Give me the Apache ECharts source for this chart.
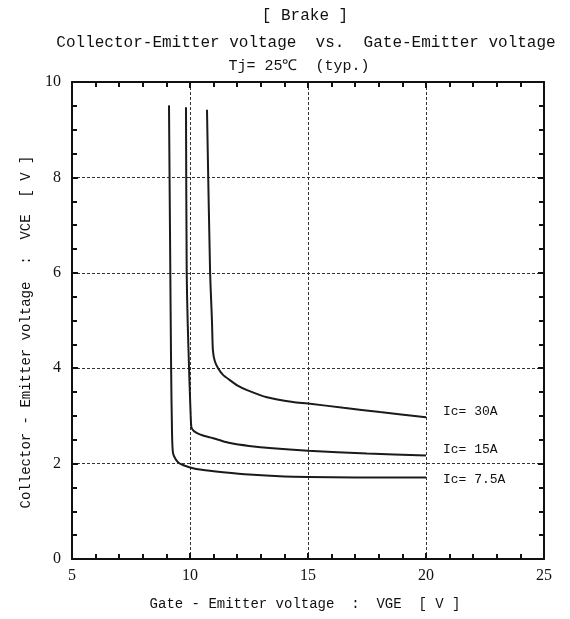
<!DOCTYPE html>
<html>
<head>
<meta charset="utf-8">
<style>
  html, body { margin: 0; padding: 0; background: #ffffff; }
  #chart { width: 570px; height: 619px; }
</style>
<script src="https://cdn.jsdelivr.net/npm/echarts@6/dist/echarts.min.js"></script>
</head>
<body>
<div id="chart"></div>
<script>
// VCE vs VGE curves for three collector currents (Tj = 25 °C, typical)
const vge30 = [10.72, 10.85, 10.93, 10.97, 11.05, 11.19, 11.4, 11.69, 12.0, 12.42, 13.26, 14.36, 15.0, 16.5, 18.05, 20.0];
const vce30 = [9.42, 6.05, 5.0, 4.38, 4.15, 4.0, 3.86, 3.75, 3.64, 3.54, 3.39, 3.29, 3.26, 3.17, 3.08, 2.97];

const vge15 = [9.83, 9.86, 9.9, 9.96, 10.0, 10.03, 10.06, 10.15, 10.3, 10.55, 10.85, 11.2, 11.7, 12.5, 13.5, 15.0, 17.5, 20.0];
const vce15 = [9.47, 6.0, 5.0, 4.0, 3.4, 3.0, 2.76, 2.69, 2.64, 2.59, 2.55, 2.5, 2.43, 2.37, 2.32, 2.27, 2.21, 2.17];

const vge7 = [9.11, 9.15, 9.2, 9.24, 9.28, 9.38, 9.49, 9.7, 10.0, 10.5, 11.4, 12.5, 14.0, 15.0, 17.0, 20.0];
const vce7 = [9.51, 7.0, 4.0, 2.6, 2.22, 2.1, 2.03, 1.97, 1.92, 1.87, 1.82, 1.77, 1.73, 1.72, 1.71, 1.71];

const curveNames = ['Ic= 30A', 'Ic= 15A', 'Ic= 7.5A'];
const xTicks = [5, 10, 15, 20, 25];
const yTicks = [0, 2, 4, 6, 8, 10];

const MONO = '"Liberation Mono", "DejaVu Sans Mono", monospace';
const SERIF = '"Liberation Serif", "DejaVu Serif", serif';
const INK = '#111111';

function pairs(xs, ys) {
  return xs.map((x, i) => [x, ys[i]]);
}

const chart = echarts.init(document.getElementById('chart'), null, { renderer: 'canvas' });

const gridLine = { show: true, lineStyle: { color: '#333333', width: 1, type: [3, 2] } };
const frameLine = { show: true, onZero: false, lineStyle: { color: INK, width: 2 } };
const inTicks = { show: true, inside: true, length: 6, lineStyle: { color: INK, width: 2 } };

function xAxisDef(pos, labels) {
  return {
    type: 'value', position: pos, min: xTicks[0], max: xTicks[xTicks.length - 1], interval: 5,
    axisLine: frameLine,
    axisTick: inTicks,
    minorTick: { show: true, splitNumber: 5, length: 5, lineStyle: { color: INK, width: 2 } },
    splitLine: pos === 'bottom' ? gridLine : { show: false },
    axisLabel: labels ? { show: true, margin: 9, color: INK, fontFamily: SERIF, fontSize: 16 } : { show: false }
  };
}

function yAxisDef(pos, labels) {
  return {
    type: 'value', position: pos, min: yTicks[0], max: yTicks[yTicks.length - 1], interval: 2,
    axisLine: frameLine,
    axisTick: inTicks,
    minorTick: { show: true, splitNumber: 4, length: 5, lineStyle: { color: INK, width: 2 } },
    splitLine: pos === 'left' ? gridLine : { show: false },
    axisLabel: labels ? { show: true, margin: 11, color: INK, fontFamily: SERIF, fontSize: 16 } : { show: false }
  };
}

function curve(name, xs, ys, dy) {
  return {
    name: name, type: 'line', data: pairs(xs, ys),
    showSymbol: false, smooth: 0.25,
    lineStyle: { color: '#1a1a1a', width: 2 },
    endLabel: {
      show: true, formatter: name, distance: 17, offset: [0, dy],
      color: INK, fontFamily: MONO, fontSize: 13
    }
  };
}

chart.setOption({
  animation: false,
  backgroundColor: '#ffffff',
  grid: { left: 72, top: 82, width: 472, height: 477, containLabel: false },
  xAxis: [xAxisDef('bottom', true), xAxisDef('top', false)],
  yAxis: [yAxisDef('left', true), yAxisDef('right', false)],
  series: [
    curve(curveNames[0], vge30, vce30, -6),
    curve(curveNames[1], vge15, vce15, -6),
    curve(curveNames[2], vge7, vce7, 2)
  ],
  graphic: [
    { type: 'text', left: null, x: 305, y: 16, style: { text: '[ Brake ]', fill: INK, font: '16px ' + MONO, align: 'center', verticalAlign: 'middle' } },
    { type: 'text', x: 306, y: 43, style: { text: 'Collector-Emitter voltage  vs.  Gate-Emitter voltage', fill: INK, font: '16px ' + MONO, align: 'center', verticalAlign: 'middle' } },
    { type: 'text', x: 299, y: 66, style: { text: 'Tj= 25℃  (typ.)', fill: INK, font: '15px ' + MONO, align: 'center', verticalAlign: 'middle' } },
    { type: 'text', x: 305, y: 604, style: { text: 'Gate - Emitter voltage  :  VGE  [ V ]', fill: INK, font: '14px ' + MONO, align: 'center', verticalAlign: 'middle' } },
    { type: 'text', x: 26, y: 332, rotation: Math.PI / 2, style: { text: 'Collector - Emitter voltage  :  VCE  [ V ]', fill: INK, font: '14px ' + MONO, align: 'center', verticalAlign: 'middle' } }
  ]
});
</script>
</body>
</html>
